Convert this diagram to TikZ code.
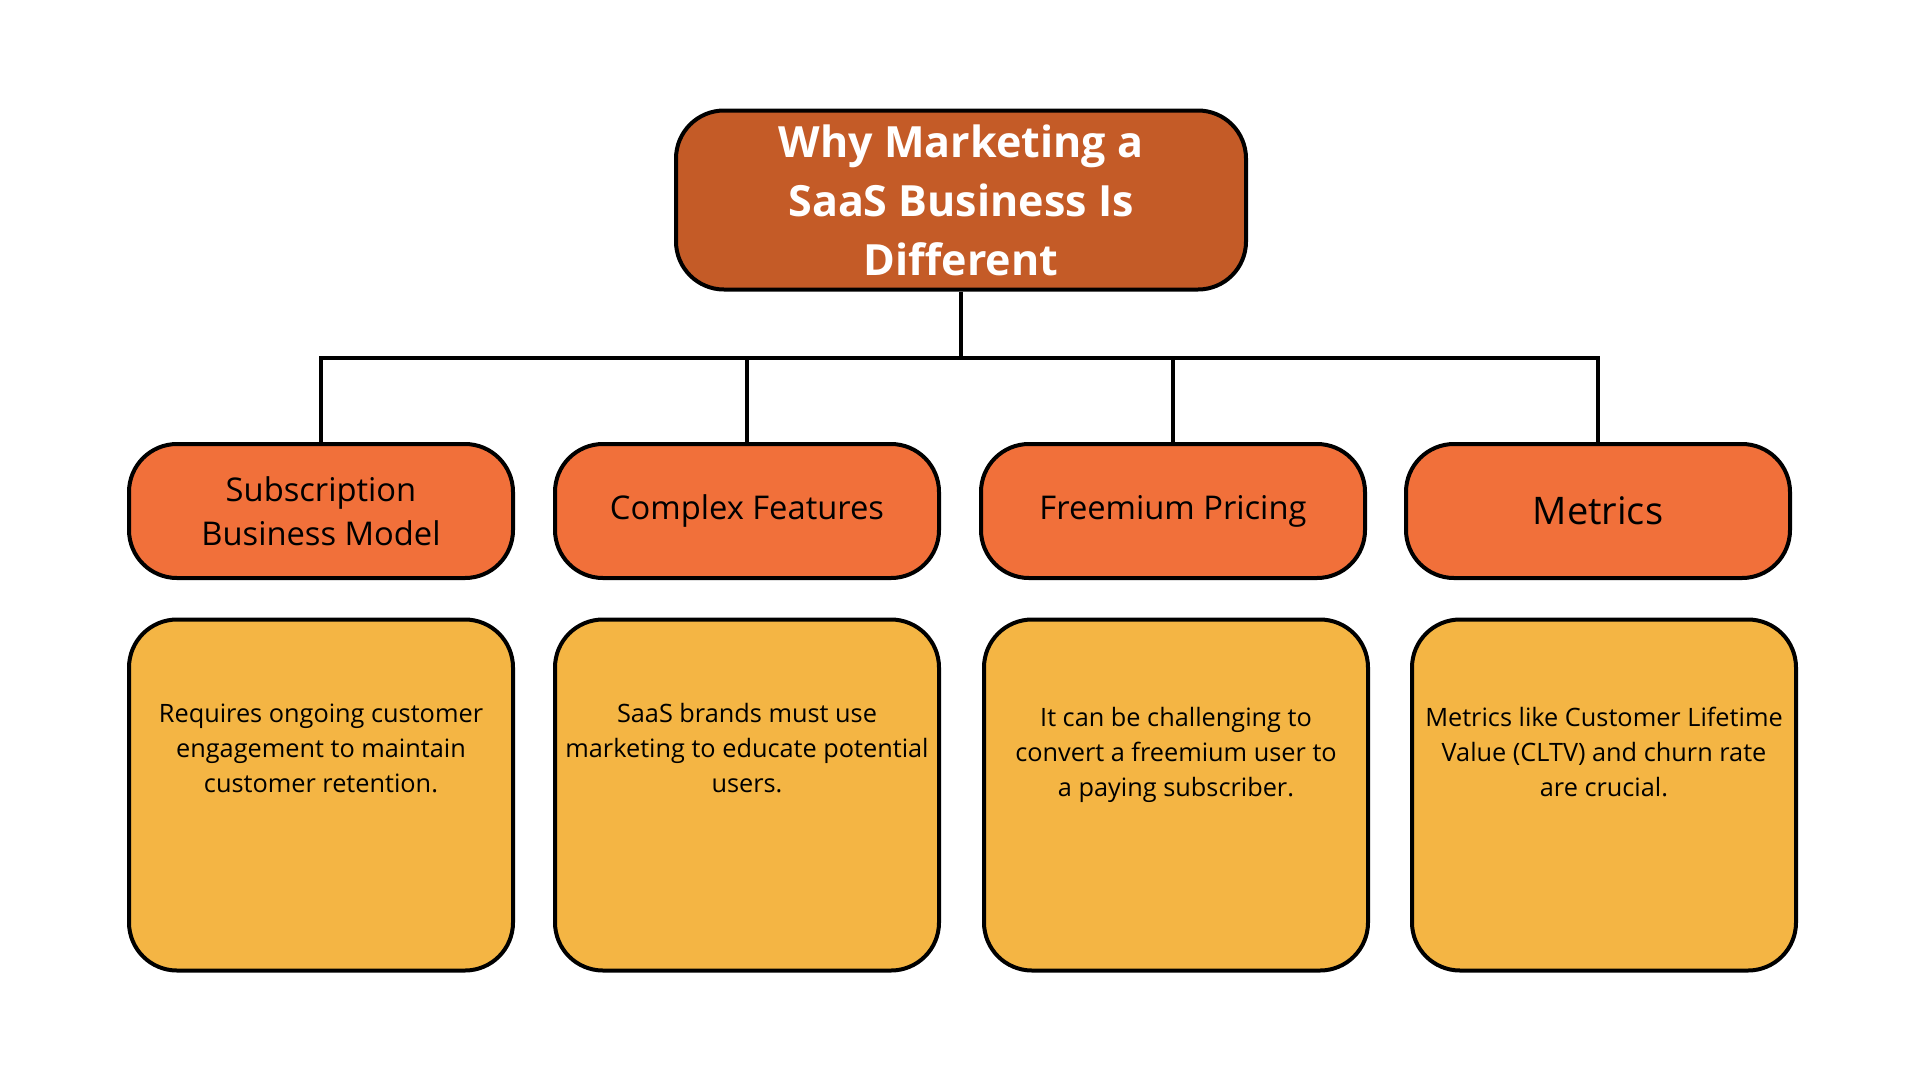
\documentclass[tikz,border=0pt]{standalone}
\usepackage{fontspec}
\setmainfont{Open Sans}
\usepackage{tikz}
\usetikzlibrary{positioning}
\definecolor{titlebrown}{RGB}{196,91,39}
\definecolor{catorange}{RGB}{241,112,58}
\definecolor{descyellow}{RGB}{244,181,68}

\begin{document}
\begin{tikzpicture}[x=1pt, y=-1pt, line width=4pt,
    catbox/.style={fill=catorange, minimum width=384pt, minimum height=134pt, font=\fontsize{32.7}{44}\selectfont},
    descbox/.style={fill=descyellow, minimum width=384pt, minimum height=351pt},
    desctext/.style={draw=none, inner sep=0pt, font=\fontsize{25.3}{35}\selectfont}]
   \useasboundingbox (0,0) rectangle (1920,1080);
   \begin{scope}[every node/.style={draw=black, rounded corners=48pt, align=center}]
    \node (top) [fill=titlebrown, text=white, minimum width=570pt, minimum height=179pt,
      font=\fontsize{43}{59}\selectfont\bfseries] at (961,200) {Why Marketing a\\SaaS Business Is\\Different};
    \node (c1) [catbox] at (321,511) {Subscription\\Business Model};
    \node (c2) [catbox] at (747,511) {Complex Features};
    \node (c3) [catbox] at (1173,511) {Freemium Pricing};
    \node (c4) [catbox, font=\fontsize{38}{50}\selectfont] at (1598,511) {Metrics};
    \node (d1) [descbox] at (321,795) {};
    \node (d2) [descbox] at (747,795) {};
    \node (d3) [descbox] at (1176,795) {};
    \node (d4) [descbox] at (1604,795) {};
    \node (t1) [desctext, below=84pt of d1.north] {Requires ongoing customer\\engagement to maintain\\customer retention.};
    \node (t2) [desctext, below=84pt of d2.north] {SaaS brands must use\\marketing to educate potential\\users.};
    \node (t3) [desctext, below=88pt of d3.north] {It can be challenging to\\convert a freemium user to\\a paying subscriber.};
    \node (t4) [desctext, below=88pt of d4.north] {Metrics like Customer Lifetime\\Value (CLTV) and churn rate\\are crucial.};
   \end{scope}
   \coordinate (bus) at (961,358);
   \draw (top.south) -- (bus);
   \draw (bus) -| (c1.north);
   \draw (bus) -| (c2.north);
   \draw (bus) -| (c3.north);
   \draw (bus) -| (c4.north);
\end{tikzpicture}
\end{document}
